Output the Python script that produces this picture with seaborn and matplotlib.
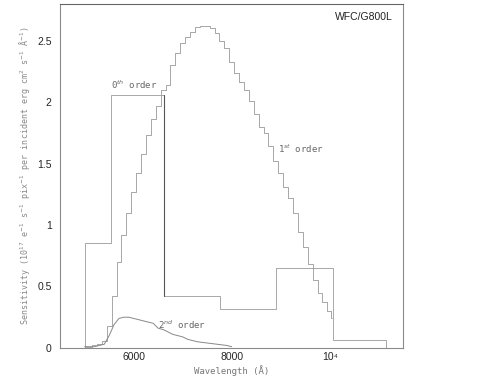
import numpy as np
import pandas as pd
import matplotlib
matplotlib.use("Agg")
import matplotlib.pyplot as plt
from matplotlib.ticker import MultipleLocator, FixedLocator
import seaborn as sns

# 1st order sensitivity (100 A bins)
wl_first = [5000, 5100, 5200, 5300, 5400, 5500, 5600, 5700, 5800, 5900,
            6000, 6100, 6200, 6300, 6400, 6500, 6600, 6700, 6800, 6900,
            7000, 7100, 7200, 7300, 7400, 7500, 7600, 7700, 7800, 7900,
            8000, 8100, 8200, 8300, 8400, 8500, 8600, 8700, 8800, 8900,
            9000, 9100, 9200, 9300, 9400, 9500, 9600, 9700, 9800, 9900,
            10000, 10050]
sens_first = [0.01, 0.01, 0.02, 0.03, 0.06, 0.18, 0.42, 0.70, 0.92, 1.10,
              1.27, 1.42, 1.58, 1.73, 1.86, 1.97, 2.10, 2.14, 2.30, 2.40,
              2.48, 2.53, 2.57, 2.61, 2.62, 2.62, 2.60, 2.56, 2.50, 2.44,
              2.33, 2.24, 2.16, 2.10, 2.01, 1.90, 1.80, 1.75, 1.64, 1.52,
              1.42, 1.31, 1.22, 1.10, 0.94, 0.82, 0.68, 0.55, 0.45, 0.37,
              0.30, 0.24]

# 2nd order
wl_second = [5000, 5100, 5200, 5300, 5400, 5500, 5600, 5700, 5800, 5900,
             6000, 6100, 6200, 6300, 6400, 6500, 6600, 6700, 6800, 6900,
             7000, 7100, 7200, 7300, 7400, 7500, 7600, 7700, 7800, 7900, 8000]
sens_second = [0.01, 0.01, 0.01, 0.02, 0.03, 0.10, 0.19, 0.24, 0.25, 0.25,
               0.24, 0.23, 0.22, 0.21, 0.20, 0.16, 0.15, 0.13, 0.11, 0.10,
               0.09, 0.07, 0.06, 0.05, 0.045, 0.04, 0.035, 0.03, 0.025, 0.02, 0.01]

# 0th order bins
edges_zeroth = [5000, 5540, 6620, 7760, 8900, 10060, 11140]
sens_zeroth = [0.85, 2.06, 0.42, 0.32, 0.65, 0.065]

sns.set_style("white")
plt.rcParams['font.family'] = ['Liberation Sans', 'DejaVu Sans']

fig = plt.figure(figsize=(5.01, 3.79), dpi=100)
ax = fig.add_axes([0.12, 0.082, 0.685, 0.908])

df1 = pd.DataFrame({"wl": wl_first, "s": sens_first})
df2 = pd.DataFrame({"wl": wl_second, "s": sens_second})
df0 = pd.DataFrame({"wl": [edges_zeroth[0]] + edges_zeroth,
                    "s": [0] + sens_zeroth + [0]})

sns.lineplot(data=df0, x="wl", y="s", ax=ax, estimator=None, sort=False,
             drawstyle="steps-post", color="#a8a8a8", lw=0.7)
ax.plot([6620, 6620], [0.42, 2.06], color="#555555", lw=0.8)
sns.lineplot(data=df1, x="wl", y="s", ax=ax, estimator=None, sort=False,
             drawstyle="steps-mid", color="#999999", lw=0.6)
sns.lineplot(data=df2, x="wl", y="s", ax=ax, estimator=None, sort=False,
             color="#888888", lw=0.7)

ax.set_xlim(4500, 11500)
ax.set_ylim(0, 2.8)
ax.xaxis.set_major_locator(FixedLocator([6000, 8000, 10000]))
ax.xaxis.set_minor_locator(MultipleLocator(500))
ax.yaxis.set_major_locator(MultipleLocator(0.5))
ax.yaxis.set_minor_locator(MultipleLocator(0.1))
ax.set_xticklabels(["6000", "8000", "10⁴"])
ax.set_yticks([0, 0.5, 1, 1.5, 2, 2.5])
ax.set_yticklabels(["0", "0.5", "1", "1.5", "2", "2.5"])
ax.tick_params(which="both", direction="in", top=False, right=False,
               color="#888888", labelsize=7.5)
ax.tick_params(axis="x", pad=3)
ax.tick_params(axis="y", pad=6)
ax.tick_params(which="major", length=5, width=0.7)
ax.tick_params(which="minor", length=3, width=0.6)
for sp in ax.spines.values():
    sp.set_color("#8a8a8a")
    sp.set_linewidth(0.8)
ax.spines["top"].set_color("#666666")

mono = "DejaVu Sans Mono"
ax.set_xlabel("Wavelength (Å)", family=mono, fontsize=6.5, color="#777777", labelpad=2)
ax.set_ylabel("Sensitivity (10$^{17}$ e$^{-1}$ s$^{-1}$ pix$^{-1}$ per incident erg cm$^{2}$ s$^{-1}$ Å$^{-1}$)",
              family=mono, fontsize=6, color="#888888", labelpad=4)

ax.text(5540, 2.09, "0$^{th}$ order", family=mono, fontsize=6.5, color="#666666",
        va="bottom", ha="left")
ax.text(8950, 1.62, "1$^{st}$ order", family=mono, fontsize=6.5, color="#666666",
        va="center", ha="left")
ax.text(6500, 0.19, "2$^{nd}$ order", family=mono, fontsize=6.5, color="#666666",
        va="center", ha="left")
ax.text(0.97, 0.975, "WFC/G800L", transform=ax.transAxes, fontsize=7.5,
        ha="right", va="top", color="#222222")

fig.savefig("out.png", dpi=100)
